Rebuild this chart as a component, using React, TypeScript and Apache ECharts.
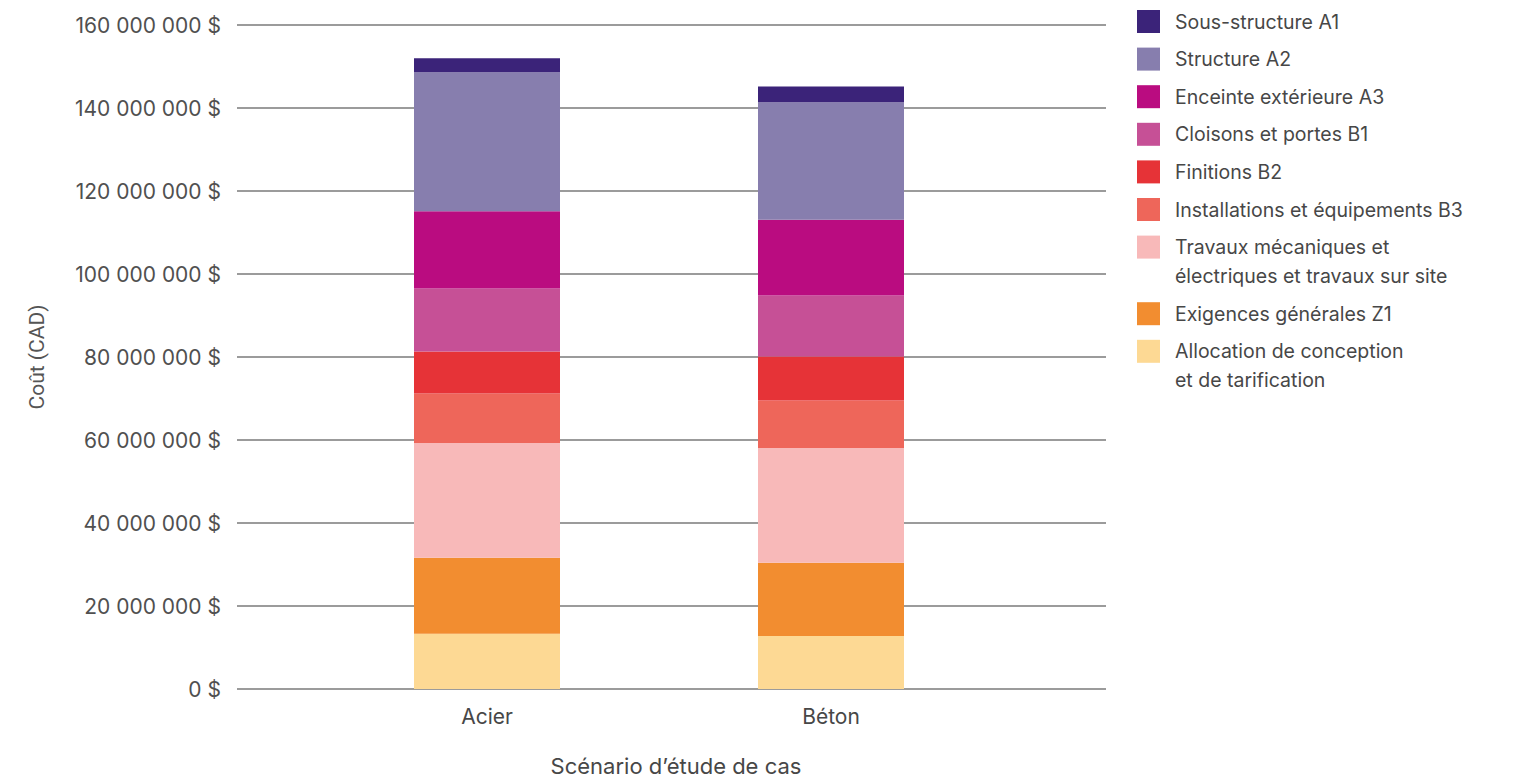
import React, { useEffect, useRef } from "react";
import * as echarts from "echarts";

// Scenarios along the x axis
const categories = ["Acier", "Béton"];

// Cost components (bottom of stack first), in dollars
const componentNames = [
  "Allocation de conception\net de tarification",
  "Exigences générales Z1",
  "Travaux mécaniques et\nélectriques et travaux sur site",
  "Installations et équipements B3",
  "Finitions B2",
  "Cloisons et portes B1",
  "Enceinte extérieure A3",
  "Structure A2",
  "Sous-structure A1",
];

const componentColors = [
  "#FDD994",
  "#F28D30",
  "#F8B9B9",
  "#EE665A",
  "#E63337",
  "#C65096",
  "#BA0C80",
  "#877EAE",
  "#3B2379",
];

const acierValues = [13.3e6, 18.3e6, 27.7e6, 11.9e6, 10.1e6, 15.2e6, 18.6e6, 33.5e6, 3.4e6];
const betonValues = [12.8e6, 17.6e6, 27.7e6, 11.4e6, 10.6e6, 14.7e6, 18.3e6, 28.3e6, 3.8e6];

const yMin = 0;
const yMax = 160e6;
const yStep = 20e6;

const FONT = "Inter, 'Noto Sans', sans-serif";

const formatDollars = (v: number) =>
  `${Math.round(v).toString().replace(/\B(?=(\d{3})+(?!\d))/g, " ")} $`;

export default function App() {
  const ref = useRef<HTMLDivElement>(null);

  useEffect(() => {
    if (!ref.current) return;
    const chart = echarts.init(ref.current, undefined, { renderer: "svg" });

    // Legend: listed top-down from the top of the stack
    const legendOrder = componentNames.map((_, i) => componentNames.length - 1 - i);
    const legendElements: any[] = [];
    let cy = 21.5;
    legendOrder.forEach((idx) => {
      const name = componentNames[idx];
      const lines = name.split("\n").length;
      legendElements.push({
        type: "rect",
        shape: { x: 1137, y: cy - 11.5, width: 23, height: 23 },
        style: { fill: componentColors[idx] },
      });
      legendElements.push({
        type: "text",
        x: 1175,
        y: cy - 14.5,
        style: {
          text: name,
          fill: "#474747",
          font: `19.5px ${FONT}`,
          lineHeight: 29,
          verticalAlign: "top",
          align: "left",
        },
      });
      cy += 37.6 + (lines - 1) * 29;
    });

    const series = componentNames.map((name, i) => ({
      name,
      type: "bar",
      stack: "total",
      xAxisIndex: 1,
      yAxisIndex: 1,
      barWidth: 146,
      itemStyle: { color: componentColors[i] },
      data: [acierValues[i], betonValues[i]],
    }));

    chart.setOption({
      animation: false,
      backgroundColor: "#ffffff",
      grid: [
        { left: 237, right: 409, top: 25, bottom: 94, outerBoundsMode: "none" },
        { left: 315, right: 512, top: 25, bottom: 94, outerBoundsMode: "none" },
      ],
      xAxis: [
        { type: "value", gridIndex: 0, show: false, min: 0, max: 1 },
        {
          type: "category",
          gridIndex: 1,
          data: categories,
          axisLine: { show: false },
          axisTick: { show: false },
          axisLabel: { color: "#474747", fontSize: 21, fontFamily: FONT, margin: 17 },
          name: "Scénario d’étude de cas",
          nameLocation: "middle",
          nameGap: 66,
          nameTextStyle: {
            color: "#474747",
            fontSize: 22,
            fontFamily: FONT,
            padding: [0, 0, 0, 34],
          },
        },
      ],
      yAxis: [
        {
          type: "value",
          gridIndex: 0,
          min: yMin,
          max: yMax,
          interval: yStep,
          axisLine: { show: false },
          axisTick: { show: false },
          splitLine: { lineStyle: { color: "#7a7a7a", width: 1.5 } },
          axisLabel: {
            color: "#505050",
            fontSize: 21,
            fontFamily: FONT,
            margin: 16,
            formatter: formatDollars,
          },
          name: "Coût (CAD)",
          nameLocation: "middle",
          nameGap: 190,
          nameTextStyle: { color: "#555", fontSize: 21, fontFamily: "Roboto, sans-serif" },
        },
        {
          type: "value",
          gridIndex: 1,
          min: yMin,
          max: yMax,
          interval: yStep,
          show: false,
          splitLine: { show: false },
        },
      ],
      series,
      graphic: legendElements,
    });

    return () => chart.dispose();
  }, []);

  return (
    <div
      ref={ref}
      style={{ position: "fixed", left: 0, top: 0, width: 1515, height: 783 }}
    />
  );
}
